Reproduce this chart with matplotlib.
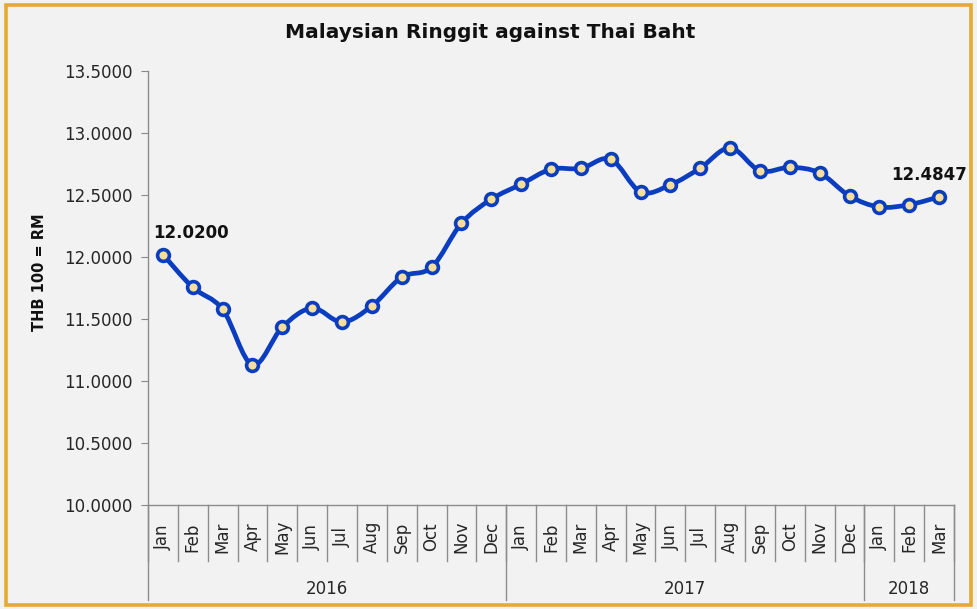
import matplotlib
matplotlib.use("Agg")
import matplotlib.pyplot as plt
from matplotlib.path import Path
from matplotlib.patches import PathPatch, Rectangle
import matplotlib.transforms as mtransforms

months = ["Jan", "Feb", "Mar", "Apr", "May", "Jun", "Jul", "Aug", "Sep", "Oct", "Nov", "Dec",
          "Jan", "Feb", "Mar", "Apr", "May", "Jun", "Jul", "Aug", "Sep", "Oct", "Nov", "Dec",
          "Jan", "Feb", "Mar"]
years = ["2016", "2017", "2018"]
year_counts = [12, 12, 3]
rates = [12.0200, 11.755, 11.578, 11.130, 11.435, 11.588, 11.475, 11.605, 11.838, 11.917, 12.272, 12.466,
         12.587, 12.708, 12.714, 12.789, 12.525, 12.582, 12.717, 12.880, 12.695, 12.723, 12.678, 12.492,
         12.403, 12.422, 12.4847]
yticks = [10.0, 10.5, 11.0, 11.5, 12.0, 12.5, 13.0, 13.5]

BLUE = "#0A3DC0"
BG = "#F2F2F2"
GOLD = "#E3AC2E"
TXT = "#262626"

plt.rcParams['font.family'] = ['DejaVu Sans']

fig = plt.figure(figsize=(9.77, 6.09), dpi=100, facecolor=BG)
ax = fig.add_axes([148/977, 1-505/609, (954-148)/977, (505-71)/609])
ax.set_facecolor(BG)

n = len(rates)
xs = list(range(n))

# smoothed line (Catmull-Rom -> cubic Bezier)
verts = [(xs[0], rates[0])]
codes = [Path.MOVETO]
for i in range(n - 1):
    p0 = (xs[i-1], rates[i-1]) if i > 0 else (xs[i], rates[i])
    p1 = (xs[i], rates[i])
    p2 = (xs[i+1], rates[i+1])
    p3 = (xs[i+2], rates[i+2]) if i + 2 < n else p2
    c1 = (p1[0] + (p2[0]-p0[0])/6, p1[1] + (p2[1]-p0[1])/6)
    c2 = (p2[0] - (p3[0]-p1[0])/6, p2[1] - (p3[1]-p1[1])/6)
    verts += [c1, c2, p2]
    codes += [Path.CURVE4]*3
ax.add_patch(PathPatch(Path(verts, codes), facecolor='none', edgecolor=BLUE, lw=3.4,
                       capstyle='round', joinstyle='round', zorder=3))
ax.plot(xs, rates, linestyle='none', marker='o', markersize=8.5, markerfacecolor='#F7DE9A',
        markeredgecolor=BLUE, markeredgewidth=2.6, zorder=4)

ax.set_xlim(-0.5, n - 0.5)
ax.set_ylim(10.0, 13.5)
ax.set_yticks(yticks)
ax.set_yticklabels([f"{v:.4f}" for v in yticks], fontsize=12, color=TXT)
ax.tick_params(axis='y', direction='out', length=5, color="#888888", pad=6)
ax.set_xticks([])
for s in ['top', 'right']:
    ax.spines[s].set_visible(False)
for s in ['left', 'bottom']:
    ax.spines[s].set_color("#8C8C8C")
    ax.spines[s].set_linewidth(1.0)

trans = mtransforms.blended_transform_factory(ax.transData, ax.transAxes)
h = 434.0
# month separators and labels
for i in range(n + 1):
    x = i - 0.5
    ax.plot([x, x], [0, -56/h], transform=trans, color="#8C8C8C", lw=1.0, clip_on=False)
for i, m in enumerate(months):
    ax.text(i, -32/h, m, transform=trans, rotation=90, ha='center', va='center',
            fontsize=12, color=TXT)
# year separators and labels
start = 0
bounds = [0]
for c in year_counts:
    start += c
    bounds.append(start)
for b in bounds:
    ax.plot([b - 0.5, b - 0.5], [0, -95/h], transform=trans, color="#8C8C8C", lw=1.0, clip_on=False)
for k, yr in enumerate(years):
    cx = (bounds[k] + bounds[k+1] - 1) / 2
    ax.text(cx, -84/h, yr, transform=trans, ha='center', va='center', fontsize=12, color=TXT)

# data labels
ax.annotate(f"{rates[0]:.4f}", (xs[0], rates[0]), xytext=(28, 22), textcoords='offset pixels',
            ha='center', va='center', fontsize=12, fontweight='bold', color="#111111")
ax.annotate(f"{rates[-1]:.4f}", (xs[-1], rates[-1]), xytext=(-10, 22), textcoords='offset pixels',
            ha='center', va='center', fontsize=12, fontweight='bold', color="#111111")

fig.text(490/977, 1-32/609, "Malaysian Ringgit against Thai Baht", ha='center', va='center',
         fontsize=14.5, fontweight='bold', color="#111111")
fig.text(39/977, 1-272/609, "THB 100 = RM", rotation=90, ha='center', va='center',
         fontsize=10.5, fontweight='bold', color="#111111")

fig.patches.append(Rectangle((6/977, 4/609), 965/977, 600/609, transform=fig.transFigure,
                             facecolor='none', edgecolor=GOLD, lw=2.6, zorder=10))

fig.savefig("out.png", dpi=100, facecolor=BG)
